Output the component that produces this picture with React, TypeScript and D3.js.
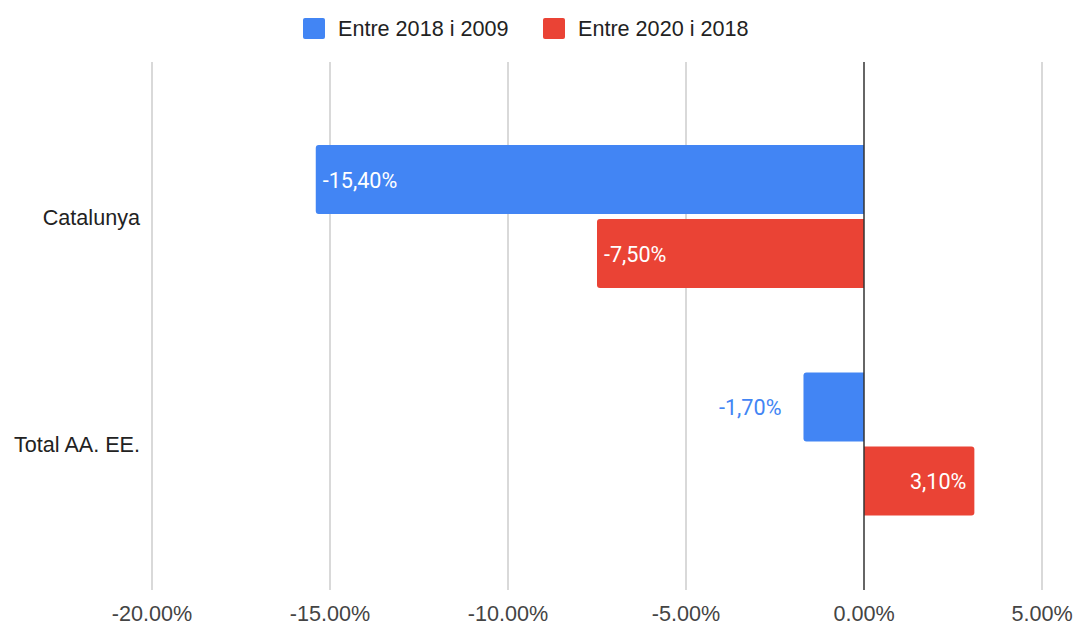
import React from "react";
import * as d3 from "d3";

const categories = ["Catalunya", "Total AA. EE."];
const seriesNames = ["Entre 2018 i 2009", "Entre 2020 i 2018"];
const seriesColors = ["#4285F4", "#EA4335"];
const values2018vs2009 = [-15.4, -1.7];
const values2020vs2018 = [-7.5, 3.1];
const xTicks = [-20, -15, -10, -5, 0, 5];

const W = 1073;
const H = 625;

function fmtTick(v: number) {
  return v.toFixed(2) + "%";
}
function fmtLabel(v: number) {
  return v.toFixed(2).replace(".", ",") + "%";
}

function barPath(x0: number, x1: number, y: number, h: number, r: number) {
  if (x1 >= x0) {
    return `M${x0},${y}H${x1 - r}Q${x1},${y} ${x1},${y + r}V${y + h - r}Q${x1},${y + h} ${x1 - r},${y + h}H${x0}Z`;
  }
  return `M${x0},${y}H${x1 + r}Q${x1},${y} ${x1},${y + r}V${y + h - r}Q${x1},${y + h} ${x1 + r},${y + h}H${x0}Z`;
}

export default function App() {
  const x = d3.scaleLinear().domain([-20, 5]).range([152, 1042]);
  const y = d3.scaleBand<string>().domain(categories).range([145, 515.5]).paddingInner(0.371);
  const yInner = d3.scaleBand<string>().domain(seriesNames).range([0, y.bandwidth()]).paddingInner(0.0676);
  const series = [values2018vs2009, values2020vs2018];
  const plotTop = 62;
  const plotBottom = 590;
  const axisFont = "'Liberation Sans', Arial, sans-serif";
  const labelFont = "Roboto, 'Liberation Sans', sans-serif";
  const fs = 21.6;

  return (
    <svg width={W} height={H} style={{ position: "absolute", left: 0, top: 0, background: "#fff" }}>
      <g>
        <rect x={303} y={18} width={22} height={21} rx={2} fill={seriesColors[0]} />
        <text x={338} y={36} fontFamily={axisFont} fontSize={fs} fill="#222">{seriesNames[0]}</text>
        <rect x={543} y={18} width={22} height={21} rx={2} fill={seriesColors[1]} />
        <text x={578} y={36} fontFamily={axisFont} fontSize={fs} fill="#222">{seriesNames[1]}</text>
      </g>
      {xTicks.map((t) => (
        <g key={t}>
          {t !== 0 && (
            <line x1={x(t)} x2={x(t)} y1={plotTop} y2={plotBottom} stroke="#cccccc" strokeWidth={1.5} />
          )}
          <text x={x(t)} y={621} textAnchor="middle" fontFamily={axisFont} fontSize={fs} fill="#444">
            {fmtTick(t)}
          </text>
        </g>
      ))}
      {categories.map((c) => (
        <text
          key={c}
          x={140}
          y={(y(c) as number) + y.bandwidth() / 2 + 8}
          textAnchor="end"
          fontFamily={axisFont}
          fontSize={fs}
          fill="#222"
        >
          {c}
        </text>
      ))}
      {categories.map((c, ci) =>
        seriesNames.map((s, si) => {
          const v = series[si][ci];
          const by = (y(c) as number) + (yInner(s) as number);
          const bh = yInner.bandwidth();
          const x0 = x(0);
          const x1 = x(v);
          const width = Math.abs(x1 - x0);
          const label = fmtLabel(v);
          const inside = width > 95;
          let lx: number;
          let anchor: "start" | "end";
          let fill: string;
          if (inside) {
            fill = "#ffffff";
            if (v < 0) {
              lx = x1 + 7;
              anchor = "start";
            } else {
              lx = x1 - 8;
              anchor = "end";
            }
          } else {
            fill = seriesColors[si];
            if (v < 0) {
              lx = x1 - 22;
              anchor = "end";
            } else {
              lx = x1 + 22;
              anchor = "start";
            }
          }
          return (
            <g key={c + s}>
              <path d={barPath(x0, x1, by, bh, 3)} fill={seriesColors[si]} />
              <text
                x={lx}
                y={by + bh / 2 + 8}
                textAnchor={anchor}
                fontFamily={labelFont}
                fontSize={fs}
                fill={fill}
              >
                {label}
              </text>
            </g>
          );
        })
      )}
      <line x1={x(0)} x2={x(0)} y1={plotTop} y2={plotBottom} stroke="#333333" strokeWidth={1.5} />
    </svg>
  );
}
